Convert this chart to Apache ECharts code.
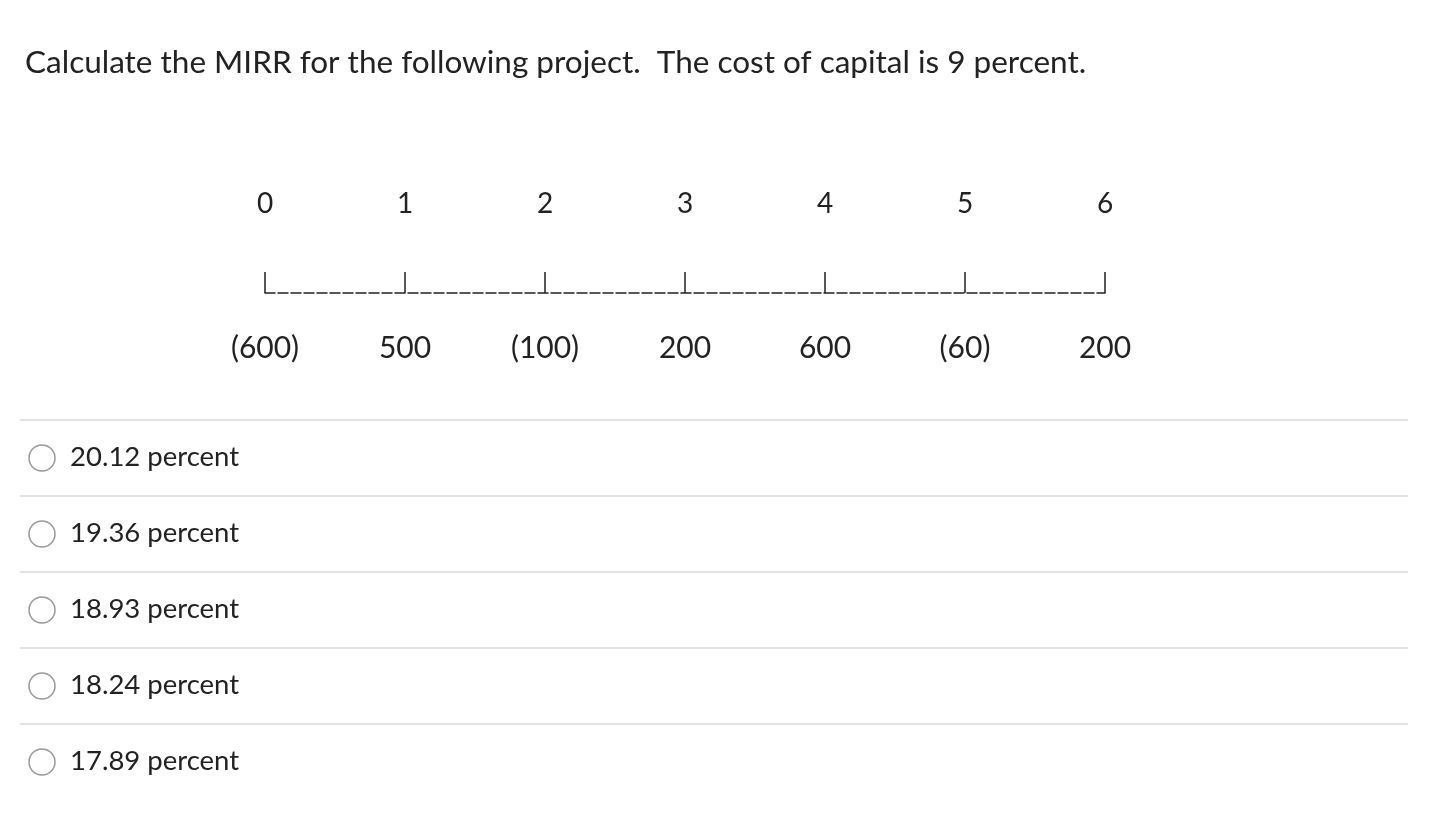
<!DOCTYPE html>
<html><head><meta charset="utf-8">
<script src="https://cdn.jsdelivr.net/npm/echarts@6/dist/echarts.min.js"></script>
<style>html,body{margin:0;background:#fff}#c{width:1440px;height:834px}</style>
</head><body><div id="c"></div>
<script>
const questionText = "Calculate the MIRR for the following project.  The cost of capital is 9 percent.";
const periods = ["0","1","2","3","4","5","6"];
const cashFlows = ["(600)","500","(100)","200","600","(60)","200"];
const answerOptions = ["20.12 percent","19.36 percent","18.93 percent","18.24 percent","17.89 percent"];

const F = "Lato, 'Open Sans', sans-serif";
const chart = echarts.init(document.getElementById('c'));
const graphic = [];
const rowTop = 420, rowH = 76;
answerOptions.forEach((t, i) => {
  const y = rowTop + i * rowH;
  graphic.push({type:'line', shape:{x1:20,y1:y,x2:1408,y2:y}, style:{stroke:'#d9d9d9',lineWidth:1.5}});
  graphic.push({type:'circle', shape:{cx:42,cy:y+38,r:13}, style:{fill:'#fff',stroke:'#999',lineWidth:1.5}});
  graphic.push({type:'text', x:70, y:y+37, style:{text:t,font:'27.5px '+F,fill:'#222',textVerticalAlign:'middle'}});
});
chart.setOption({
  animation:false,
  title:{text:questionText,left:20,top:42,textStyle:{fontFamily:F,fontSize:31.5,fontWeight:'normal',color:'#222'}},
  grid:{left:265,right:335,top:292,height:1},
  xAxis:[
    {type:'category',position:'top',data:periods,boundaryGap:false,
     axisLine:{lineStyle:{color:'#222',type:[10,3],width:1.5}},
     axisTick:{show:true,length:21,lineStyle:{color:'#222',width:1.5}},
     axisLabel:{margin:74,fontFamily:F,fontSize:28,color:'#222'},splitLine:{show:false}},
    {type:'category',position:'bottom',data:cashFlows,boundaryGap:false,
     axisLine:{show:false},axisTick:{show:false},
     axisLabel:{margin:40,fontFamily:F,fontSize:30,color:'#222'},splitLine:{show:false}}
  ],
  yAxis:{type:'value',show:false},
  series:[],
  graphic
});
</script></body></html>
